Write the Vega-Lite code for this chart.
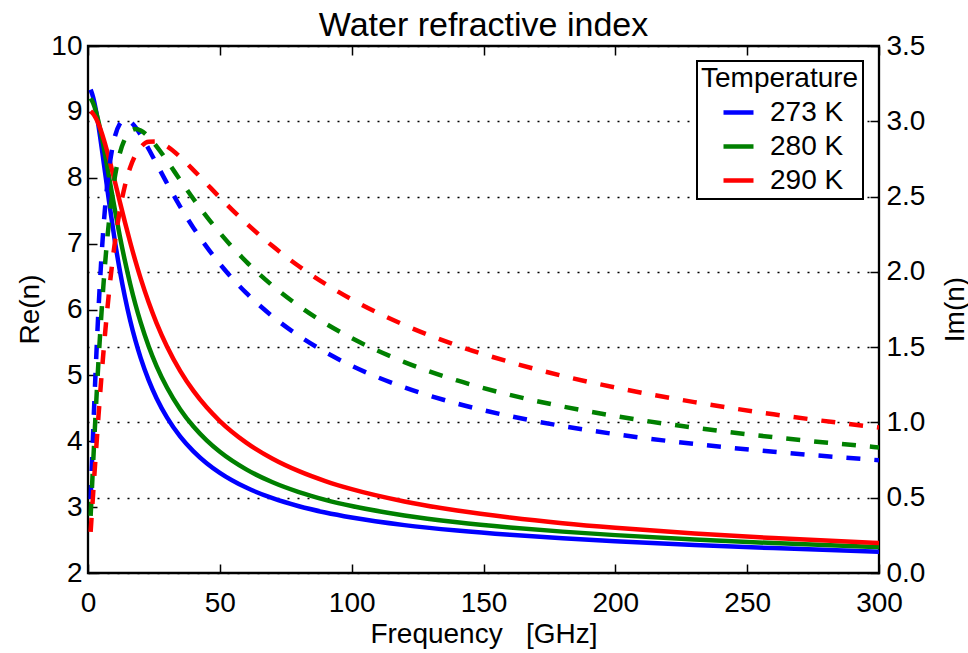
{
  "$schema": "https://vega.github.io/schema/vega-lite/v6.json",
  "width": 791,
  "height": 527,
  "autosize": {"type": "none"},
  "padding": {"left": 88, "top": 46, "right": 89, "bottom": 80},
  "background": "white",
  "title": {"text": "Water refractive index", "font": "Liberation Sans", "fontSize": 34, "fontWeight": "normal", "color": "black", "offset": -11},
  "config": {
    "font": "Liberation Sans",
    "view": {"stroke": "black", "strokeWidth": 2.3},
    "axis": {
      "labelFont": "Liberation Sans", "labelFontSize": 28, "labelColor": "black", "labelFlush": false, "labelOverlap": false,
      "titleFont": "Liberation Sans", "titleFontSize": 28, "titleFontWeight": "normal", "titleColor": "black",
      "domain": false, "tickColor": "black", "tickWidth": 1.5, "tickSize": -9, "grid": false
    },
    "legend": {
      "orient": "none", "legendX": 609, "legendY": 15,
      "strokeColor": "black", "strokeWidth": 2, "fillColor": "white", "padding": 4,
      "titleFont": "Liberation Sans", "titleFontSize": 28, "titleFontWeight": "normal", "titleColor": "black",
      "labelFont": "Liberation Sans", "labelFontSize": 28, "labelColor": "black",
      "symbolType": "stroke", "symbolSize": 900, "symbolStrokeWidth": 4.5, "symbolOffset": 20, "symbolDash": [1, 0],
      "labelOffset": 14, "rowPadding": 2, "titlePadding": 2
    }
  },
  "datasets": {
    "d": [
      {"f": 1, "T": "273 K", "re": 9.338, "im": 0.491},
      {"f": 2, "T": "273 K", "re": 9.215, "im": 0.959},
      {"f": 3, "T": "273 K", "re": 9.025, "im": 1.385},
      {"f": 4, "T": "273 K", "re": 8.784, "im": 1.757},
      {"f": 6, "T": "273 K", "re": 8.219, "im": 2.325},
      {"f": 8, "T": "273 K", "re": 7.633, "im": 2.683},
      {"f": 10, "T": "273 K", "re": 7.089, "im": 2.885},
      {"f": 12, "T": "273 K", "re": 6.607, "im": 2.981},
      {"f": 14, "T": "273 K", "re": 6.191, "im": 3.010},
      {"f": 16, "T": "273 K", "re": 5.833, "im": 2.998},
      {"f": 18, "T": "273 K", "re": 5.526, "im": 2.961},
      {"f": 20, "T": "273 K", "re": 5.262, "im": 2.909},
      {"f": 23, "T": "273 K", "re": 4.928, "im": 2.816},
      {"f": 26, "T": "273 K", "re": 4.654, "im": 2.718},
      {"f": 30, "T": "273 K", "re": 4.359, "im": 2.587},
      {"f": 35, "T": "273 K", "re": 4.071, "im": 2.432},
      {"f": 40, "T": "273 K", "re": 3.847, "im": 2.292},
      {"f": 45, "T": "273 K", "re": 3.667, "im": 2.166},
      {"f": 50, "T": "273 K", "re": 3.521, "im": 2.053},
      {"f": 60, "T": "273 K", "re": 3.297, "im": 1.860},
      {"f": 70, "T": "273 K", "re": 3.135, "im": 1.704},
      {"f": 80, "T": "273 K", "re": 3.013, "im": 1.575},
      {"f": 90, "T": "273 K", "re": 2.918, "im": 1.467},
      {"f": 100, "T": "273 K", "re": 2.842, "im": 1.376},
      {"f": 120, "T": "273 K", "re": 2.727, "im": 1.233},
      {"f": 140, "T": "273 K", "re": 2.644, "im": 1.125},
      {"f": 160, "T": "273 K", "re": 2.579, "im": 1.042},
      {"f": 180, "T": "273 K", "re": 2.527, "im": 0.976},
      {"f": 200, "T": "273 K", "re": 2.482, "im": 0.922},
      {"f": 230, "T": "273 K", "re": 2.426, "im": 0.857},
      {"f": 260, "T": "273 K", "re": 2.378, "im": 0.805},
      {"f": 300, "T": "273 K", "re": 2.323, "im": 0.749},
      {"f": 1, "T": "280 K", "re": 9.205, "im": 0.379},
      {"f": 2, "T": "280 K", "re": 9.129, "im": 0.747},
      {"f": 3, "T": "280 K", "re": 9.009, "im": 1.095},
      {"f": 4, "T": "280 K", "re": 8.851, "im": 1.413},
      {"f": 6, "T": "280 K", "re": 8.456, "im": 1.947},
      {"f": 8, "T": "280 K", "re": 8.009, "im": 2.341},
      {"f": 10, "T": "280 K", "re": 7.557, "im": 2.610},
      {"f": 12, "T": "280 K", "re": 7.130, "im": 2.783},
      {"f": 14, "T": "280 K", "re": 6.739, "im": 2.883},
      {"f": 16, "T": "280 K", "re": 6.388, "im": 2.933},
      {"f": 18, "T": "280 K", "re": 6.076, "im": 2.948},
      {"f": 20, "T": "280 K", "re": 5.800, "im": 2.939},
      {"f": 23, "T": "280 K", "re": 5.443, "im": 2.896},
      {"f": 26, "T": "280 K", "re": 5.142, "im": 2.834},
      {"f": 30, "T": "280 K", "re": 4.812, "im": 2.737},
      {"f": 35, "T": "280 K", "re": 4.483, "im": 2.609},
      {"f": 40, "T": "280 K", "re": 4.223, "im": 2.484},
      {"f": 45, "T": "280 K", "re": 4.013, "im": 2.367},
      {"f": 50, "T": "280 K", "re": 3.840, "im": 2.259},
      {"f": 60, "T": "280 K", "re": 3.573, "im": 2.068},
      {"f": 70, "T": "280 K", "re": 3.377, "im": 1.908},
      {"f": 80, "T": "280 K", "re": 3.228, "im": 1.773},
      {"f": 90, "T": "280 K", "re": 3.111, "im": 1.658},
      {"f": 100, "T": "280 K", "re": 3.017, "im": 1.560},
      {"f": 120, "T": "280 K", "re": 2.874, "im": 1.401},
      {"f": 140, "T": "280 K", "re": 2.771, "im": 1.279},
      {"f": 160, "T": "280 K", "re": 2.692, "im": 1.183},
      {"f": 180, "T": "280 K", "re": 2.628, "im": 1.106},
      {"f": 200, "T": "280 K", "re": 2.575, "im": 1.042},
      {"f": 230, "T": "280 K", "re": 2.509, "im": 0.965},
      {"f": 260, "T": "280 K", "re": 2.454, "im": 0.902},
      {"f": 300, "T": "280 K", "re": 2.393, "im": 0.834},
      {"f": 1, "T": "290 K", "re": 9.008, "im": 0.273},
      {"f": 2, "T": "290 K", "re": 8.968, "im": 0.541},
      {"f": 3, "T": "290 K", "re": 8.902, "im": 0.800},
      {"f": 4, "T": "290 K", "re": 8.813, "im": 1.048},
      {"f": 6, "T": "290 K", "re": 8.579, "im": 1.495},
      {"f": 8, "T": "290 K", "re": 8.291, "im": 1.870},
      {"f": 10, "T": "290 K", "re": 7.973, "im": 2.170},
      {"f": 12, "T": "290 K", "re": 7.647, "im": 2.401},
      {"f": 14, "T": "290 K", "re": 7.327, "im": 2.572},
      {"f": 16, "T": "290 K", "re": 7.021, "im": 2.693},
      {"f": 18, "T": "290 K", "re": 6.734, "im": 2.776},
      {"f": 20, "T": "290 K", "re": 6.468, "im": 2.828},
      {"f": 23, "T": "290 K", "re": 6.109, "im": 2.864},
      {"f": 26, "T": "290 K", "re": 5.794, "im": 2.865},
      {"f": 30, "T": "290 K", "re": 5.435, "im": 2.833},
      {"f": 35, "T": "290 K", "re": 5.065, "im": 2.762},
      {"f": 40, "T": "290 K", "re": 4.764, "im": 2.676},
      {"f": 45, "T": "290 K", "re": 4.515, "im": 2.585},
      {"f": 50, "T": "290 K", "re": 4.307, "im": 2.494},
      {"f": 60, "T": "290 K", "re": 3.980, "im": 2.323},
      {"f": 70, "T": "290 K", "re": 3.735, "im": 2.171},
      {"f": 80, "T": "290 K", "re": 3.546, "im": 2.037},
      {"f": 90, "T": "290 K", "re": 3.396, "im": 1.920},
      {"f": 100, "T": "290 K", "re": 3.273, "im": 1.817},
      {"f": 120, "T": "290 K", "re": 3.086, "im": 1.647},
      {"f": 140, "T": "290 K", "re": 2.948, "im": 1.511},
      {"f": 160, "T": "290 K", "re": 2.842, "im": 1.401},
      {"f": 180, "T": "290 K", "re": 2.756, "im": 1.309},
      {"f": 200, "T": "290 K", "re": 2.686, "im": 1.232},
      {"f": 230, "T": "290 K", "re": 2.600, "im": 1.135},
      {"f": 260, "T": "290 K", "re": 2.530, "im": 1.054},
      {"f": 300, "T": "290 K", "re": 2.455, "im": 0.966}
    ]
  },
  "data": {"name": "d"},
  "layer": [
    {
      "mark": {"type": "line", "strokeWidth": 4.5, "interpolate": "monotone", "clip": true},
      "encoding": {
        "x": {"field": "f", "type": "quantitative", "scale": {"domain": [0, 300], "nice": false},
          "axis": {"orient": "bottom", "title": "Frequency\u00a0\u00a0\u00a0[GHz]", "values": [0, 50, 100, 150, 200, 250, 300], "labelPadding": 25, "titlePadding": 3}},
        "y": {"field": "re", "type": "quantitative", "scale": {"domain": [2, 10], "nice": false, "zero": false},
          "axis": {"title": "Re(n)", "values": [2, 3, 4, 5, 6, 7, 8, 9, 10], "labelPadding": 15,
            "titleX": -58, "titleY": 263, "titleAngle": 270, "titleAlign": "center", "titleBaseline": "middle"}},
        "color": {"field": "T", "type": "nominal", "title": "Temperature",
          "scale": {"domain": ["273 K", "280 K", "290 K"], "range": ["#0000ff", "#008000", "#ff0000"]}}
      }
    },
    {
      "mark": {"type": "line", "strokeWidth": 4.5, "strokeDash": [14, 14], "interpolate": "monotone", "clip": true},
      "encoding": {
        "x": {"field": "f", "type": "quantitative",
          "axis": {"orient": "top", "labels": false, "title": null, "values": [0, 50, 100, 150, 200, 250, 300]}},
        "y": {"field": "im", "type": "quantitative", "scale": {"domain": [0, 3.5], "nice": false},
          "axis": {"orient": "right", "title": "Im(n)", "values": [0, 0.5, 1, 1.5, 2, 2.5, 3, 3.5], "format": ".1f",
            "labelPadding": 16,
            "titleX": 76, "titleY": 263, "titleAngle": 270, "titleAlign": "center", "titleBaseline": "middle",
            "grid": true, "gridColor": "black", "gridDash": [2, 8], "gridWidth": 1.3}},
        "color": {"field": "T", "type": "nominal"}
      }
    }
  ],
  "resolve": {"scale": {"y": "independent"}, "axis": {"x": "independent"}}
}
